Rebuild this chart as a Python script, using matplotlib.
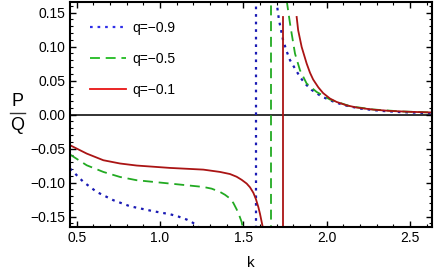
import numpy as np
import matplotlib.pyplot as plt
from matplotlib.lines import Line2D
from matplotlib.ticker import MultipleLocator

plt.rcParams['font.family'] = ['Liberation Sans', 'DejaVu Sans']

# q = -0.9
k_b1 = [0.46, 0.54, 0.62, 0.72, 0.82, 0.96, 1.06, 1.11, 1.16, 1.19, 1.22, 1.23]
v_b1 = [-0.0794, -0.099, -0.1138, -0.126, -0.1349, -0.1422, -0.1466, -0.150, -0.1544, -0.158, -0.163, -0.165]
k_b2 = [1.698, 1.714, 1.738, 1.76, 1.78, 1.81, 1.84, 1.87, 1.91, 1.97, 2.04, 2.10, 2.20, 2.32, 2.45, 2.63]
v_b2 = [0.168, 0.139, 0.110, 0.093, 0.080, 0.0676, 0.0553, 0.0456, 0.0362, 0.0265, 0.0191, 0.0141, 0.0088, 0.0055, 0.0035, 0.002]
pole_b = 1.574

# q = -0.5
k_g1 = [0.46, 0.56, 0.66, 0.76, 0.86, 1.06, 1.16, 1.26, 1.31, 1.36, 1.39, 1.42, 1.44, 1.46, 1.475, 1.49, 1.495]
v_g1 = [-0.0588, -0.0746, -0.0844, -0.0918, -0.0966, -0.1015, -0.104, -0.1065, -0.109, -0.1138, -0.118, -0.1235, -0.130, -0.1395, -0.148, -0.158, -0.165]
k_g2 = [1.76, 1.78, 1.79, 1.81, 1.84, 1.88, 1.94, 2.02, 2.14, 2.28, 2.45, 2.63]
v_g2 = [0.168, 0.134, 0.119, 0.0897, 0.0651, 0.0456, 0.0332, 0.0221, 0.0122, 0.0074, 0.0045, 0.003]
pole_g = 1.664

# q = -0.1
k_r1 = [0.46, 0.56, 0.66, 0.76, 0.86, 1.06, 1.26, 1.36, 1.42, 1.46, 1.49, 1.52, 1.54, 1.56, 1.575, 1.59, 1.60, 1.616]
v_r1 = [-0.0451, -0.0574, -0.0672, -0.072, -0.075, -0.0785, -0.081, -0.0844, -0.0875, -0.0915, -0.096, -0.1015, -0.107, -0.115, -0.124, -0.136, -0.146, -0.165]
k_r2 = [1.82, 1.829, 1.85, 1.88, 1.90, 1.919, 1.95, 1.979, 2.02, 2.06, 2.12, 2.18, 2.28, 2.38, 2.50, 2.64]
v_r2 = [0.1435, 0.124, 0.0994, 0.075, 0.0615, 0.0515, 0.040, 0.0315, 0.0235, 0.0185, 0.0135, 0.0103, 0.0072, 0.0053, 0.0040, 0.003]
pole_r = 1.736
pole_r_top = 0.1435

labels = ['q=\u22120.9', 'q=\u22120.5', 'q=\u22120.1']

fig = plt.figure(figsize=(4.36, 2.75), dpi=100)
ax = fig.add_axes([0.1606, 0.1745, 0.8294, 0.818])

blue, green, red = '#1a1ab4', '#22aa22', '#aa1414'
dot = (0, (1.2, 2.2))
dash = (0, (5.5, 3.2))
lw = 1.3

ax.axhline(0, color='#222222', lw=1.3, zorder=1)

ax.plot(k_b1, v_b1, color=blue, lw=1.6, linestyle=dot)
ax.plot(k_b2, v_b2, color=blue, lw=1.6, linestyle=dot)
ax.plot([pole_b, pole_b], [-0.2, 0.2], color=blue, lw=1.6, linestyle=dot)

ax.plot(k_g1, v_g1, color=green, lw=lw, linestyle=dash)
ax.plot(k_g2, v_g2, color=green, lw=lw, linestyle=dash)
ax.plot([pole_g, pole_g], [-0.2, 0.2], color=green, lw=lw, linestyle=dash)

ax.plot(k_r1, v_r1, color=red, lw=lw)
ax.plot(k_r2, v_r2, color=red, lw=lw)
ax.plot([pole_r, pole_r], [-0.2, pole_r_top], color=red, lw=lw)

ax.set_xlim(0.46, 2.63)
ax.set_ylim(-0.1654, 0.1654)

ax.xaxis.set_major_locator(MultipleLocator(0.5))
ax.xaxis.set_minor_locator(MultipleLocator(0.1))
ax.yaxis.set_major_locator(MultipleLocator(0.05))
ax.yaxis.set_minor_locator(MultipleLocator(0.01))
ax.xaxis.set_major_formatter(plt.FuncFormatter(lambda v, p: f'{v:.1f}'))
ax.yaxis.set_major_formatter(plt.FuncFormatter(lambda v, p: f'{v:.2f}'.replace('-', '\u2212')))
ax.tick_params(which='both', direction='in', top=True, right=True, labelsize=10, pad=3)
ax.tick_params(which='major', length=4, width=1)
ax.tick_params(which='minor', length=2, width=0.8)
for s in ax.spines.values():
    s.set_linewidth(1.5)

ax.set_xlabel('k', fontsize=11, labelpad=8)
fig.text(0.04, 0.63, 'P', fontsize=13, ha='center', va='center')
fig.add_artist(Line2D([0.022, 0.058], [0.59, 0.59], color='#333333', lw=1))
fig.text(0.04, 0.543, 'Q', fontsize=13, ha='center', va='center')

handles = [Line2D([], [], color='#2f2fe8', lw=1.6, linestyle=dot),
           Line2D([], [], color='#22bb22', lw=lw, linestyle=dash),
           Line2D([], [], color='#e81414', lw=lw)]
ax.legend(handles, labels, loc='upper left', bbox_to_anchor=(0.02, 0.97), frameon=False,
          fontsize=10, handlelength=2.6, labelspacing=1.2, handletextpad=0.5)

fig.savefig('out.png', dpi=100)
